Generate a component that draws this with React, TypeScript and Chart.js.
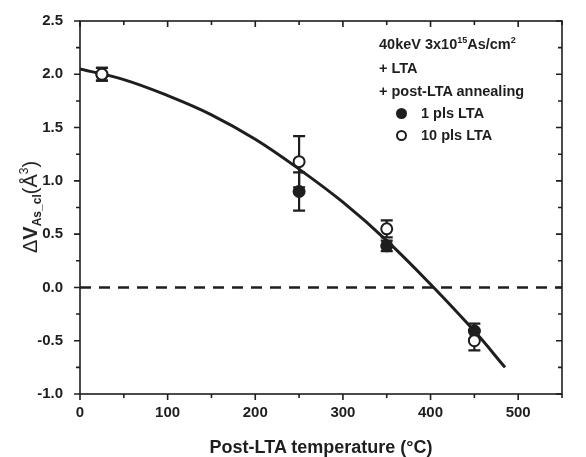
import React, { useEffect, useRef } from "react";
import { Chart, registerables } from "chart.js";

Chart.register(...registerables);

const temps = [25, 250, 350, 450];
const pls1 = [2.0, 0.9, 0.39, -0.41];
const pls1Err = [0.06, 0.18, 0.05, 0.07];
const pls10 = [2.0, 1.18, 0.55, -0.5];
const pls10Err = [0.06, 0.24, 0.08, 0.09];

const fitX = [0, 50, 100, 150, 200, 250, 300, 350, 400, 450, 485];
const fitY = [2.05, 1.95, 1.8, 1.62, 1.39, 1.11, 0.8, 0.44, 0.03, -0.41, -0.75];

const zeroX = [0, 550];
const zeroY = [0, 0];

const xMajor = [0, 100, 200, 300, 400, 500];
const yMajor = [-1.0, -0.5, 0.0, 0.5, 1.0, 1.5, 2.0, 2.5];

const FONT = "'Liberation Sans', Arial, sans-serif";
const INK = "#1e1e1e";

export default function App() {
  const ref = useRef<HTMLCanvasElement | null>(null);

  useEffect(() => {
    document.body.style.margin = "0";
    const canvas = ref.current!;
    const frame = {
      id: "frame",
      beforeDatasetsDraw(chart: any) {
        const ctx = chart.ctx;
        const xs = chart.scales.x;
        const ys = chart.scales.y;
        ctx.save();
        ctx.strokeStyle = INK;
        ctx.lineWidth = 2.2;
        const cap = 6;
        const bars = [
          [pls1, pls1Err],
          [pls10, pls10Err],
        ];
        bars.forEach(([vals, errs]) => {
          temps.forEach((t, i) => {
            const px = xs.getPixelForValue(t);
            const top = ys.getPixelForValue(vals[i] + errs[i]);
            const bot = ys.getPixelForValue(vals[i] - errs[i]);
            ctx.beginPath();
            ctx.moveTo(px, top);
            ctx.lineTo(px, bot);
            ctx.moveTo(px - cap, top);
            ctx.lineTo(px + cap, top);
            ctx.moveTo(px - cap, bot);
            ctx.lineTo(px + cap, bot);
            ctx.stroke();
          });
        });
        ctx.restore();
      },
      afterDraw(chart: any) {
        const ctx = chart.ctx;
        const a = chart.chartArea;
        const xs = chart.scales.x;
        const ys = chart.scales.y;
        ctx.save();
        ctx.strokeStyle = INK;
        ctx.lineWidth = 1.6;
        ctx.strokeRect(a.left, a.top, a.right - a.left, a.bottom - a.top);
        ctx.beginPath();
        for (let v = 0; v <= 550; v += 50) {
          const px = xs.getPixelForValue(v);
          const major = v % 100 === 0;
          const len = major ? 6 : 4;
          ctx.moveTo(px, a.bottom);
          ctx.lineTo(px, a.bottom + len);
          ctx.moveTo(px, a.top);
          ctx.lineTo(px, a.top + len);
        }
        for (let k = -4; k <= 10; k++) {
          const v = k * 0.25;
          const py = ys.getPixelForValue(v);
          const major = k % 2 === 0;
          const len = major ? 6 : 4;
          ctx.moveTo(a.left, py);
          ctx.lineTo(a.left - len, py);
          ctx.moveTo(a.right, py);
          ctx.lineTo(a.right - len, py);
        }
        ctx.stroke();
        ctx.restore();
      },
    };

    const chart = new Chart(canvas, {
      type: "scatter",
      data: {
        datasets: [
          {
            label: "10 pls LTA",
            data: temps.map((t, i) => ({ x: t, y: pls10[i] })),
            pointRadius: 5.5,
            pointBackgroundColor: "#ffffff",
            pointBorderColor: INK,
            pointBorderWidth: 2,
            order: 0,
          },
          {
            label: "1 pls LTA",
            data: temps.map((t, i) => ({ x: t, y: pls1[i] })),
            pointRadius: 6.5,
            pointBackgroundColor: INK,
            pointBorderColor: INK,
            pointBorderWidth: 0,
            order: 1,
          },
          {
            type: "line",
            label: "fit",
            data: fitX.map((x, i) => ({ x, y: fitY[i] })),
            borderColor: INK,
            borderWidth: 3,
            pointRadius: 0,
            tension: 0.4,
            fill: false,
            order: 2,
          } as any,
          {
            type: "line",
            label: "zero",
            data: zeroX.map((x, i) => ({ x, y: zeroY[i] })),
            borderColor: INK,
            borderWidth: 2.5,
            borderDash: [11, 8],
            pointRadius: 0,
            fill: false,
            order: 3,
          } as any,
        ],
      },
      options: {
        animation: false,
        responsive: false,
        layout: { padding: { top: 21, right: 24, left: 0, bottom: 0 } },
        plugins: { legend: { display: false }, tooltip: { enabled: false } },
        scales: {
          x: {
            type: "linear",
            min: 0,
            max: 550,
            afterFit: (s: any) => {
              s.height = 63;
            },
            afterBuildTicks: (s: any) => {
              s.ticks = xMajor.map((v) => ({ value: v }));
            },
            ticks: {
              color: INK,
              font: { family: FONT, size: 15, weight: "bold" },
              padding: 2,
              maxRotation: 0,
            },
            grid: { display: false, drawOnChartArea: false },
            border: { display: false },
          },
          y: {
            type: "linear",
            min: -1.0,
            max: 2.5,
            afterFit: (s: any) => {
              s.width = 80;
            },
            afterBuildTicks: (s: any) => {
              s.ticks = yMajor.map((v) => ({ value: v }));
            },
            ticks: {
              color: INK,
              font: { family: FONT, size: 15, weight: "bold" },
              padding: 9,
              callback: (v: any) => Number(v).toFixed(1),
            },
            grid: { display: false, drawOnChartArea: false },
            border: { display: false },
          },
        },
      },
      plugins: [frame],
    } as any);
    return () => chart.destroy();
  }, []);

  const legendLine: React.CSSProperties = {
    position: "absolute",
    left: 0,
    whiteSpace: "nowrap",
  };

  return (
    <div
      style={{
        position: "relative",
        width: 586,
        height: 457,
        fontFamily: FONT,
        color: INK,
        background: "#fff",
      }}
    >
      <canvas ref={ref} width={586} height={457} style={{ display: "block" }} />
      <div
        style={{
          position: "absolute",
          left: 379,
          top: 36,
          fontSize: 14.5,
          fontWeight: "bold",
          lineHeight: "16px",
        }}
      >
        <div style={{ ...legendLine, top: 0 }}>
          40keV 3x10<sup style={{ fontSize: 9, verticalAlign: "6px", lineHeight: 0 }}>15</sup>As/cm
          <sup style={{ fontSize: 9, verticalAlign: "6px", lineHeight: 0 }}>2</sup>
        </div>
        <div style={{ ...legendLine, top: 24 }}>+ LTA</div>
        <div style={{ ...legendLine, top: 47 }}>+ post-LTA annealing</div>
        <div style={{ ...legendLine, top: 69, left: 17 }}>
          <span
            style={{
              display: "inline-block",
              width: 11,
              height: 11,
              borderRadius: "50%",
              background: INK,
              marginRight: 14,
              verticalAlign: "-1px",
            }}
          />
          1 pls LTA
        </div>
        <div style={{ ...legendLine, top: 91, left: 17 }}>
          <span
            style={{
              display: "inline-block",
              width: 7,
              height: 7,
              borderRadius: "50%",
              border: `2px solid ${INK}`,
              marginRight: 14,
              verticalAlign: "-1px",
            }}
          />
          10 pls LTA
        </div>
      </div>
      <div
        style={{
          position: "absolute",
          left: 30,
          top: 207,
          transform: "translate(-50%, -50%) rotate(-90deg)",
          whiteSpace: "nowrap",
          fontSize: 20,
          lineHeight: "24px",
        }}
      >
        <span style={{ fontWeight: "normal" }}>Δ</span>
        <span style={{ fontWeight: "bold" }}>V</span>
        <sub style={{ fontSize: 12, fontWeight: "bold", verticalAlign: "-4px", lineHeight: 0 }}>As_cl</sub>
        <span style={{ fontWeight: "normal" }}>(Å</span>
        <sup style={{ fontSize: 12, verticalAlign: "9px", lineHeight: 0 }}>3</sup>
        <span style={{ fontWeight: "normal" }}>)</span>
      </div>
      <div
        style={{
          position: "absolute",
          left: 321,
          top: 447,
          transform: "translate(-50%, -50%)",
          whiteSpace: "nowrap",
          fontSize: 18,
          fontWeight: "bold",
        }}
      >
        Post-LTA temperature (°C)
      </div>
    </div>
  );
}
